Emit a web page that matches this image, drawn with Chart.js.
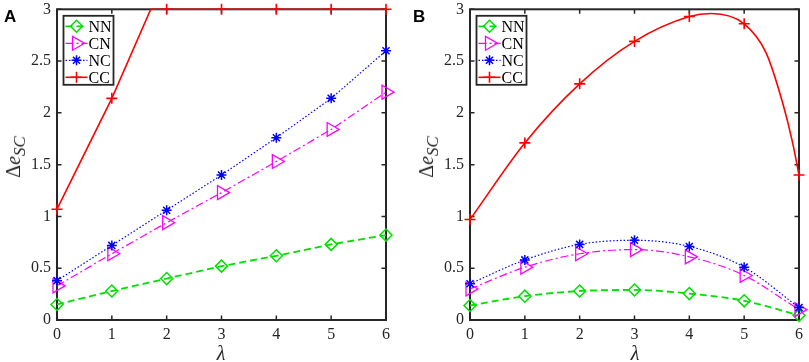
<!DOCTYPE html>
<html>
<head>
<meta charset="utf-8">
<script src="https://cdn.jsdelivr.net/npm/chart.js@4.4.1/dist/chart.umd.min.js"></script>
<style>
  html, body { margin: 0; padding: 0; background: #fff; }
  #fig { position: relative; width: 809px; height: 362px; overflow: hidden;
         font-family: 'Liberation Serif', 'Times New Roman', serif; }
  #fig canvas { position: absolute; top: 0; }
  .panel { position: absolute; font: bold 17px 'Liberation Sans', Arial, sans-serif; line-height: 17px; color: #000; }
  .ylab { position: absolute; font-size: 20px; line-height: 20px; white-space: nowrap; color: #262626;
          transform: translate(-50%, -50%) rotate(-90deg); }
  .ylab i.e { font-style: italic; }
  .ylab sub { font-size: 17px; line-height: 0; font-style: italic; vertical-align: -5px; }
  .xlab { position: absolute; font-size: 20px; line-height: 20px; font-style: italic; color: #262626;
          transform: translateX(-50%); }
</style>
</head>
<body>
<div id="fig">
  <canvas id="chartA" width="396" height="362" style="left:0"></canvas>
  <canvas id="chartB" width="396" height="362" style="left:413px"></canvas>
  <div class="panel" style="left:4px;top:8px">A</div>
  <div class="panel" style="left:413px;top:8px">B</div>
  <div class="ylab" style="left:13px;top:157px">&Delta;<i class="e">e</i><sub>SC</sub></div>
  <div class="ylab" style="left:426px;top:157px">&Delta;<i class="e">e</i><sub>SC</sub></div>
  <div class="xlab" style="left:221px;top:343px">&lambda;</div>
  <div class="xlab" style="left:635px;top:343px">&lambda;</div>
</div>
<script>
// tick values and labels
const lambdaTicks = [0, 1, 2, 3, 4, 5, 6];
const lambdaLabels = ['0', '1', '2', '3', '4', '5', '6'];
const yTickValues = [0, 0.5, 1, 1.5, 2, 2.5, 3];
const yTickLabels = ['0', '0.5', '1', '1.5', '2', '2.5', '3'];
const seriesNames = ['NN', 'CN', 'NC', 'CC'];

// panel A (values at lambda = 0..6)
const aNN = [0.15, 0.28, 0.40, 0.52, 0.62, 0.73, 0.82];
const aCN = [0.33, 0.64, 0.94, 1.23, 1.53, 1.84, 2.20];
const aNC = [0.38, 0.72, 1.06, 1.40, 1.76, 2.14, 2.60];
const aCC = [1.07, 2.14, 3, 3, 3, 3, 3];
// where the CC curve hits the y limit (no marker there)
const aCCextraX = [1.71];
const aCCextraY = [3];

// panel B (values at lambda = 0..6)
const bNN = [0.14, 0.23, 0.28, 0.29, 0.255, 0.185, 0.045];
const bCN = [0.30, 0.51, 0.64, 0.68, 0.61, 0.43, 0.10];
const bNC = [0.35, 0.58, 0.73, 0.77, 0.71, 0.51, 0.12];
const bCC = [0.97, 1.71, 2.28, 2.69, 2.93, 2.86, 1.40];
// extra points
const bCCextraX = [4.4, 5.4, 5.7, 5.88];
const bCCextraY = [2.96, 2.58, 2.10, 1.72];

const serif = "'Liberation Serif', 'Times New Roman', serif";
const axisColor = '#262626';

const styles = {
  NN: { borderColor: '#00e000', borderWidth: 1.8, borderDash: [7, 4], pointStyle: 'rectRot', r: 6, pointBorderWidth: 1.5 },
  CN: { borderColor: '#ff00ff', borderWidth: 1.2, borderDash: [8, 3, 2, 3], pointStyle: 'triangle', pointRotation: 90, r: 8, pointBorderWidth: 1.3 },
  NC: { borderColor: '#0000ff', borderWidth: 1.2, borderDash: [1.5, 2], pointStyle: 'star', r: 5, pointBorderWidth: 1.5 },
  CC: { borderColor: '#ff0000', borderWidth: 1.6, borderDash: [], pointStyle: 'cross', r: 5.5, pointBorderWidth: 1.6 }
};
const drawOrder = { NN: 3, CN: 2, NC: 1, CC: 0 };

function makeSeries(name, ys, extraX, extraY, smooth) {
  const pts = lambdaTicks.map((x, i) => ({ x: x, y: ys[i] }));
  (extraX || []).forEach((x, i) => pts.push({ x: x, y: extraY[i] }));
  pts.sort((p, q) => p.x - q.x);
  const st = styles[name];
  return {
    label: name,
    data: pts,
    order: drawOrder[name],
    borderColor: st.borderColor,
    borderWidth: st.borderWidth,
    borderDash: st.borderDash,
    pointStyle: st.pointStyle,
    pointRotation: st.pointRotation || 0,
    pointBorderColor: st.borderColor,
    pointBackgroundColor: 'rgba(0,0,0,0)',
    pointBorderWidth: st.pointBorderWidth,
    pointRadius: ctx => Number.isInteger(ctx.raw.x) ? st.r : 0,
    pointHoverRadius: 0,
    fill: false,
    tension: 0,
    cubicInterpolationMode: smooth ? 'monotone' : 'default',
    clip: false
  };
}

// box round the plot plus inward ticks on all four sides
const axesFrame = {
  id: 'axesFrame',
  beforeDatasetsDraw(chart) {
    const { ctx, chartArea: a, scales } = chart;
    const t = 4.5;
    ctx.save();
    ctx.strokeStyle = axisColor;
    ctx.lineWidth = 2;
    ctx.strokeRect(a.left, a.top, a.right - a.left, a.bottom - a.top);
    ctx.lineWidth = 1.5;
    ctx.beginPath();
    lambdaTicks.forEach(v => {
      const p = scales.x.getPixelForValue(v);
      ctx.moveTo(p, a.bottom); ctx.lineTo(p, a.bottom - t);
      ctx.moveTo(p, a.top); ctx.lineTo(p, a.top + t);
    });
    yTickValues.forEach(v => {
      const p = scales.y.getPixelForValue(v);
      ctx.moveTo(a.left, p); ctx.lineTo(a.left + t, p);
      ctx.moveTo(a.right, p); ctx.lineTo(a.right - t, p);
    });
    ctx.stroke();
    ctx.restore();
  }
};

// legend box in the upper left corner, line sample + marker + name
const legendBox = {
  id: 'legendBox',
  afterDatasetsDraw(chart) {
    const { ctx, chartArea: a } = chart;
    const x0 = a.left + 6.5, y0 = a.top + 6.5, w = 50, h = 69;
    ctx.save();
    ctx.fillStyle = '#fff';
    ctx.fillRect(x0, y0, w, h);
    ctx.strokeStyle = axisColor;
    ctx.lineWidth = 1.8;
    ctx.strokeRect(x0, y0, w, h);
    seriesNames.forEach((name, i) => {
      const st = styles[name];
      const y = y0 + 10.5 + i * 17;
      ctx.strokeStyle = st.borderColor;
      ctx.lineWidth = st.borderWidth;
      ctx.setLineDash(st.borderDash);
      ctx.beginPath();
      ctx.moveTo(x0 + 2, y);
      ctx.lineTo(x0 + 24, y);
      ctx.stroke();
      ctx.setLineDash([]);
      ctx.fillStyle = 'rgba(0,0,0,0)';
      ctx.lineWidth = st.pointBorderWidth;
      Chart.helpers.drawPoint(ctx, {
        pointStyle: st.pointStyle, rotation: st.pointRotation || 0,
        radius: st.r, borderWidth: st.pointBorderWidth
      }, x0 + 13, y);
      ctx.fillStyle = '#000';
      ctx.font = '16px ' + serif;
      ctx.textBaseline = 'middle';
      ctx.textAlign = 'left';
      ctx.fillText(name, x0 + 25, y + 1);
    });
    ctx.restore();
  }
};

function makePanel(canvasId, datasets) {
  return new Chart(document.getElementById(canvasId), {
    type: 'line',
    data: { datasets: datasets },
    options: {
      responsive: false,
      animation: false,
      devicePixelRatio: 1,
      layout: { padding: { left: 0, top: 6, right: 10, bottom: 0 } },
      plugins: { legend: { display: false }, tooltip: { enabled: false } },
      scales: {
        x: {
          type: 'linear', min: 0, max: 6,
          afterBuildTicks: s => { s.ticks = lambdaTicks.map(v => ({ value: v })); },
          afterFit: s => { s.height = 42; s.paddingLeft = 0; s.paddingRight = 0; },
          grid: { display: false, drawTicks: false },
          border: { display: false },
          ticks: {
            padding: 5, color: axisColor, maxRotation: 0, autoSkip: false,
            font: { family: serif, size: 16 },
            callback: v => lambdaLabels[lambdaTicks.indexOf(v)]
          }
        },
        y: {
          type: 'linear', min: 0, max: 3,
          afterBuildTicks: s => { s.ticks = yTickValues.map(v => ({ value: v })); },
          afterFit: s => { s.width = 57; s.paddingTop = 0; s.paddingBottom = 0; },
          grid: { display: false, drawTicks: false },
          border: { display: false },
          ticks: {
            padding: 6, color: axisColor, autoSkip: false,
            font: { family: serif, size: 16 },
            callback: v => yTickLabels[yTickValues.indexOf(v)]
          }
        }
      }
    },
    plugins: [axesFrame, legendBox]
  });
}

makePanel('chartA', [
  makeSeries('NN', aNN),
  makeSeries('CN', aCN),
  makeSeries('NC', aNC),
  makeSeries('CC', aCC, aCCextraX, aCCextraY)
]);

makePanel('chartB', [
  makeSeries('NN', bNN, null, null, true),
  makeSeries('CN', bCN, null, null, true),
  makeSeries('NC', bNC, null, null, true),
  makeSeries('CC', bCC, bCCextraX, bCCextraY, true)
]);
</script>
</body>
</html>
